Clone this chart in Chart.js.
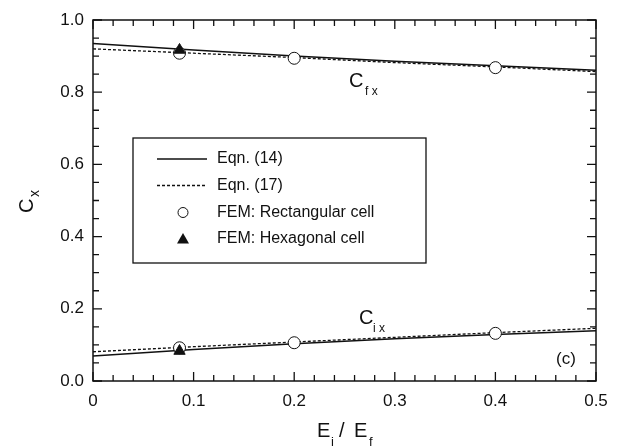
<!DOCTYPE html>
<html>
<head>
<meta charset="utf-8">
<script src="https://cdn.jsdelivr.net/npm/chart.js@4.4.1/dist/chart.umd.min.js"></script>
<style>
  html, body { margin: 0; padding: 0; background: #fff; }
  #wrap { width: 621px; height: 448px; }
</style>
</head>
<body>
<div id="wrap"><canvas id="chart" width="621" height="448"></canvas></div>
<script>
// Ei/Ef values for the analytical curves
const xEqn = [0, 0.1, 0.2, 0.3, 0.4, 0.5];
const cfxEqn14 = [0.935, 0.917, 0.900, 0.886, 0.873, 0.861];
const cfxEqn17 = [0.920, 0.908, 0.896, 0.882, 0.870, 0.857];
const cixEqn14 = [0.069, 0.087, 0.103, 0.117, 0.129, 0.139];
const cixEqn17 = [0.081, 0.095, 0.108, 0.121, 0.134, 0.146];

// FEM results
const xRect = [0.086, 0.2, 0.4];
const cfxRect = [0.908, 0.894, 0.868];
const cixRect = [0.092, 0.106, 0.132];
const xHex = [0.086];
const cfxHex = [0.917];
const cixHex = [0.083];

const xTicks = [0, 0.1, 0.2, 0.3, 0.4, 0.5];
const yTicks = [0.0, 0.2, 0.4, 0.6, 0.8, 1.0];
const legendLabels = ['Eqn. (14)', 'Eqn. (17)', 'FEM: Rectangular cell', 'FEM: Hexagonal cell'];

const FONT = '"Liberation Sans", Arial, Helvetica, sans-serif';

function pts(xs, ys) {
    return xs.map((x, i) => ({ x: x, y: ys[i] }));
}

function lineSet(ys, dashed) {
    return {
        data: pts(xEqn, ys),
        showLine: true,
        borderColor: '#111',
        borderWidth: dashed ? 1.3 : 1.5,
        borderDash: dashed ? [3, 2] : [],
        pointRadius: 0,
        fill: false,
        order: 3
    };
}

function markerSet(xs, ys, style) {
    return {
        data: pts(xs, ys),
        showLine: false,
        pointStyle: style,
        pointRadius: style === 'circle' ? 6 : 6.5,
        pointBackgroundColor: style === 'circle' ? '#fff' : '#111',
        pointBorderColor: '#111',
        pointBorderWidth: 1,
        order: style === 'circle' ? 2 : 1
    };
}

// inward ticks on all four sides, plus texts and legend box
const decorPlugin = {
    id: 'decor',
    afterDatasetsDraw(chart) {
        const ctx = chart.ctx;
        const xs = chart.scales.x, ys = chart.scales.y;
        const a = chart.chartArea;
        ctx.save();
        ctx.strokeStyle = '#111';
        ctx.lineWidth = 1.3;
        ctx.beginPath();
        for (let i = 0; i <= 25; i++) {
            const v = i * 0.02;
            const px = xs.getPixelForValue(v);
            const len = i % 5 === 0 ? 9 : 6;
            ctx.moveTo(px, a.bottom); ctx.lineTo(px, a.bottom - len);
            ctx.moveTo(px, a.top); ctx.lineTo(px, a.top + len);
        }
        for (let i = 0; i <= 20; i++) {
            const v = i * 0.05;
            const py = ys.getPixelForValue(v);
            const len = i % 4 === 0 ? 9 : 6;
            ctx.moveTo(a.left, py); ctx.lineTo(a.left + len, py);
            ctx.moveTo(a.right, py); ctx.lineTo(a.right - len, py);
        }
        ctx.stroke();

        ctx.lineWidth = 1.5;
        ctx.strokeRect(a.left, a.top, a.right - a.left, a.bottom - a.top);

        // curve labels
        ctx.fillStyle = '#111';
        ctx.textBaseline = 'alphabetic';
        ctx.textAlign = 'left';
        ctx.font = '20px ' + FONT;
        ctx.fillText('C', 349, 87);
        ctx.fillText('C', 359, 324);
        ctx.font = '12px ' + FONT;
        ctx.fillText('f x', 365, 95);
        ctx.fillText('i x', 373, 332);
        ctx.font = '17px ' + FONT;
        ctx.fillText('(c)', 556, 364);

        // x axis title
        ctx.font = '20px ' + FONT;
        ctx.fillText('E', 317, 437);
        ctx.fillText('/', 339, 437);
        ctx.fillText('E', 354, 437);
        ctx.font = '13px ' + FONT;
        ctx.fillText('i', 331, 446);
        ctx.fillText('f', 369, 446);

        // y axis title
        ctx.save();
        ctx.translate(33, 213);
        ctx.rotate(-Math.PI / 2);
        ctx.font = '20px ' + FONT;
        ctx.fillText('C', 0, 0);
        ctx.font = '14px ' + FONT;
        ctx.fillText('x', 16, 6);
        ctx.restore();

        // legend
        const L = 133, T = 138, R = 426, B = 263;
        ctx.fillStyle = '#fff';
        ctx.fillRect(L, T, R - L, B - T);
        ctx.lineWidth = 1.3;
        ctx.strokeStyle = '#111';
        ctx.strokeRect(L, T, R - L, B - T);
        const rows = [159, 185.5, 212.5, 239];
        ctx.beginPath();
        ctx.moveTo(157, rows[0]); ctx.lineTo(207, rows[0]);
        ctx.lineWidth = 1.5;
        ctx.stroke();
        ctx.beginPath();
        ctx.setLineDash([3, 2]);
        ctx.lineWidth = 1.3;
        ctx.moveTo(157, rows[1]); ctx.lineTo(207, rows[1]);
        ctx.stroke();
        ctx.setLineDash([]);
        ctx.beginPath();
        ctx.lineWidth = 1;
        ctx.arc(183, rows[2], 5, 0, Math.PI * 2);
        ctx.stroke();
        ctx.beginPath();
        ctx.fillStyle = '#111';
        ctx.moveTo(183, rows[3] - 6);
        ctx.lineTo(189, rows[3] + 4.5);
        ctx.lineTo(177, rows[3] + 4.5);
        ctx.closePath();
        ctx.fill();
        ctx.font = '16px ' + FONT;
        ctx.textBaseline = 'middle';
        legendLabels.forEach((t, i) => ctx.fillText(t, 217, rows[i]));
        ctx.restore();
    }
};

new Chart(document.getElementById('chart'), {
    type: 'scatter',
    data: {
        datasets: [
            lineSet(cfxEqn14, false),
            lineSet(cfxEqn17, true),
            lineSet(cixEqn14, false),
            lineSet(cixEqn17, true),
            markerSet(xRect, cfxRect, 'circle'),
            markerSet(xRect, cixRect, 'circle'),
            markerSet(xHex, cfxHex, 'triangle'),
            markerSet(xHex, cixHex, 'triangle')
        ]
    },
    options: {
        responsive: false,
        animation: false,
        layout: { padding: { left: 0, top: 20, right: 25, bottom: 0 } },
        plugins: {
            legend: { display: false },
            tooltip: { enabled: false }
        },
        scales: {
            x: {
                type: 'linear',
                min: 0,
                max: 0.5,
                afterFit: s => { s.height = 67; },
                afterBuildTicks: s => { s.ticks = xTicks.map(v => ({ value: v })); },
                grid: { display: false, drawTicks: false },
                border: { display: false },
                ticks: {
                    padding: 10,
                    color: '#111',
                    font: { family: FONT, size: 17 },
                    callback: v => v === 0 ? '0' : v.toFixed(1)
                }
            },
            y: {
                type: 'linear',
                min: 0,
                max: 1,
                afterFit: s => { s.width = 93; },
                afterBuildTicks: s => { s.ticks = yTicks.map(v => ({ value: v })); },
                grid: { display: false, drawTicks: false },
                border: { display: false },
                ticks: {
                    padding: 9,
                    color: '#111',
                    font: { family: FONT, size: 17 },
                    callback: v => v.toFixed(1)
                }
            }
        }
    },
    plugins: [decorPlugin]
});
</script>
</body>
</html>
